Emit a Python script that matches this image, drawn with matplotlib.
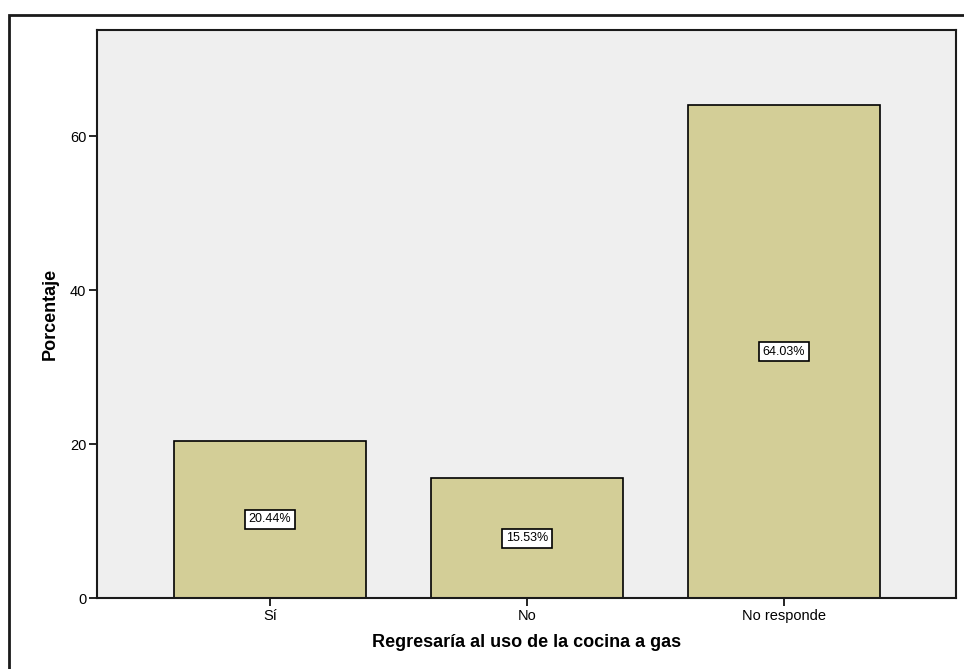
import matplotlib
matplotlib.use("Agg")
import matplotlib.pyplot as plt
from matplotlib.patches import Rectangle

categories = ["Sí", "No", "No responde"]
percentages = [20.44, 15.53, 64.03]
y_ticks = [0, 20, 40, 60]

plt.rcParams['font.family'] = ['Liberation Sans', 'DejaVu Sans']

fig = plt.figure(figsize=(9.64, 6.69), dpi=100)
ax = fig.add_axes([0.1011, 0.1061, 0.8906, 0.8491])
ax.set_facecolor("#EFEFEF")

x = list(range(len(categories)))
ax.bar(x, percentages, width=0.75, color="#D3CE97", edgecolor="black", linewidth=1.2, zorder=2)

for xi, v in zip(x, percentages):
    ax.text(xi, v / 2, f"{v:.2f}%", ha="center", va="center", fontsize=9, zorder=3,
            bbox=dict(boxstyle="square,pad=0.28", facecolor="white", edgecolor="black", linewidth=1.2))

ax.set_xlim(-0.671, 2.669)
ax.set_ylim(0, 73.8)
ax.set_xticks(x)
ax.set_xticklabels(categories, fontsize=10.5)
ax.set_yticks(y_ticks)
ax.set_yticklabels([str(t) for t in y_ticks], fontsize=10.5)
ax.tick_params(axis="both", length=6, width=1.2, color="black", pad=2)
for s in ax.spines.values():
    s.set_linewidth(1.5)
    s.set_color("#1a1a1a")

ax.set_ylabel("Porcentaje", fontsize=13, fontweight="bold", labelpad=8)
ax.set_xlabel("Regresaría al uso de la cocina a gas", fontsize=13, fontweight="bold", labelpad=8)

# Outer frame around the chart
frame = Rectangle((9 / 964, -0.1), 1.2, 1 - 15 / 669 + 0.1, transform=fig.transFigure,
                  fill=False, edgecolor="#1a1a1a", linewidth=2, clip_on=False)
fig.patches.append(frame)

fig.savefig("out.png", dpi=100)
